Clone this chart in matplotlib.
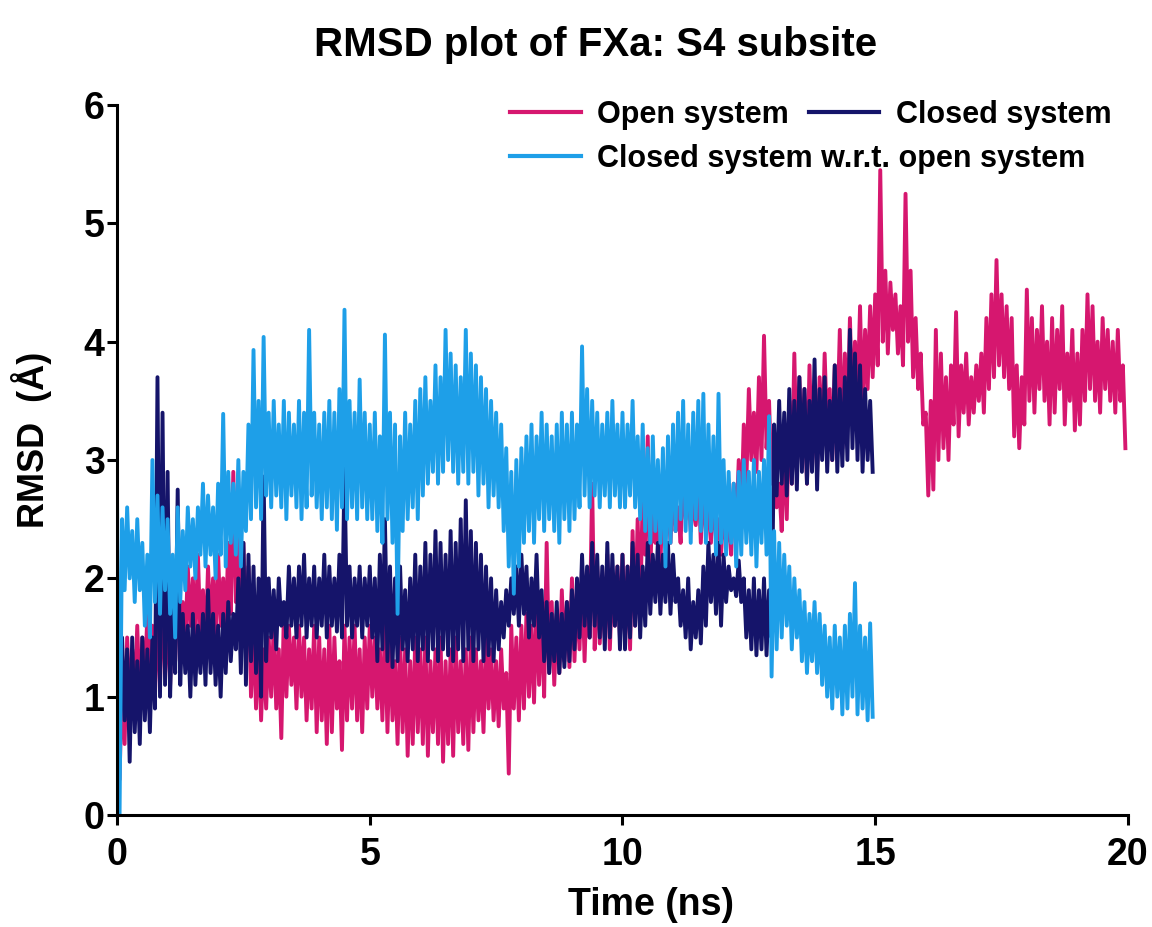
import numpy as np
import matplotlib.pyplot as plt

plt.rcParams['font.family'] = ['Liberation Sans', 'DejaVu Sans']

# RMSD bands, one (upper, lower) pair every 0.1 ns
open_hi = [0.9, 1.2, 1.5, 1.4, 1.6, 1.5, 1.7, 1.6, 1.8, 1.9,
           1.7, 1.9, 2.0, 1.8, 2.1, 2.0, 2.2, 1.9, 2.1, 2.0,
           2.2, 2.0, 2.3, 2.9, 2.4, 2.3, 2.1, 1.6, 1.5, 1.4,
           1.5, 1.6, 1.4, 1.7, 1.6, 1.5, 1.6, 1.5, 1.4, 1.6,
           1.5, 1.4, 1.6, 1.5, 1.3, 1.6, 1.5, 1.6, 1.4, 1.5,
           1.6, 1.5, 1.4, 1.6, 1.5, 1.3, 1.5, 1.4, 1.3, 1.5,
           1.4, 1.5, 1.3, 1.4, 1.5, 1.3, 1.4, 1.5, 1.3, 1.4,
           1.5, 1.4, 1.3, 1.5, 1.4, 1.3, 1.4, 1.2, 1.6, 1.5,
           1.6, 1.7, 1.6, 1.8, 1.7, 2.3, 1.8, 1.7, 1.9, 1.8,
           2.0, 1.9, 2.1, 2.0, 2.8, 2.1, 1.9, 2.2, 2.0, 2.1,
           2.2, 2.1, 2.4, 2.5, 2.7, 3.2, 2.9, 2.6, 2.8, 2.7,
           2.8, 2.6, 2.9, 2.8, 2.7, 2.9, 2.8, 2.6, 2.7, 2.5,
           2.6, 2.5, 2.8, 3.0, 3.3, 3.6, 3.4, 3.7, 4.05, 3.5,
           3.0, 2.8, 3.2, 3.5, 3.9, 3.7, 3.6, 3.8, 3.5, 3.7,
           3.9, 3.6, 3.8, 4.1, 3.9, 4.2, 4.0, 4.3, 4.1, 4.3,
           4.4, 5.45, 4.6, 4.5, 4.4, 4.3, 5.25, 4.6, 4.2, 3.9,
           3.4, 3.5, 4.1, 3.9, 3.7, 3.8, 4.25, 3.8, 3.9, 3.7,
           3.8, 3.9, 4.2, 4.4, 4.69, 4.4, 4.3, 4.2, 3.8, 3.7,
           4.44, 4.2, 4.1, 4.3, 4.0, 4.2, 4.1, 4.3, 3.9, 4.1,
           3.9, 4.1, 4.4, 4.3, 4.0, 4.2, 4.1, 4.0, 4.1, 3.8]
open_lo = [0.3, 0.6, 0.9, 1.0, 0.9, 1.1, 1.2, 1.0, 1.1, 1.2,
           1.1, 1.3, 1.5, 1.4, 1.6, 1.5, 1.5, 1.4, 1.6, 1.5,
           1.6, 1.5, 1.7, 1.8, 1.7, 1.4, 1.0, 0.9, 0.8, 0.9,
           1.0, 0.9, 0.65, 1.0, 1.1, 0.9, 1.0, 0.8, 0.9, 0.7,
           0.8, 0.6, 0.7, 0.9, 0.55, 0.8, 0.9, 0.8, 0.7, 0.9,
           1.0, 0.9, 0.8, 0.7, 0.8, 0.6, 0.7, 0.5, 0.6, 0.7,
           0.6, 0.5, 0.7, 0.6, 0.45, 0.6, 0.5, 0.7, 0.6, 0.55,
           0.7, 0.8, 0.7, 0.9, 0.8, 0.75, 0.9, 0.35, 0.9, 0.8,
           0.9, 1.0, 0.95, 1.1, 1.0, 1.2, 1.1, 1.2, 1.3, 1.25,
           1.3, 1.4, 1.3, 1.5, 1.4, 1.45, 1.5, 1.4, 1.6, 1.5,
           1.5, 1.4, 1.6, 1.7, 2.2, 2.0, 2.3, 2.1, 2.4, 2.3,
           2.4, 2.3, 2.5, 2.4, 2.45, 2.3, 2.4, 2.3, 2.35, 2.2,
           2.3, 2.2, 2.4, 2.5, 2.8, 3.0, 2.9, 3.0, 3.1, 2.8,
           2.6, 2.4, 2.5, 2.8, 2.9, 3.0, 2.8, 3.0, 2.9, 3.1,
           3.2, 3.0, 3.3, 3.1, 3.3, 3.4, 3.5, 3.4, 3.6, 3.7,
           3.8, 4.0, 3.9, 4.1, 3.9, 3.8, 4.0, 3.7, 3.6, 3.3,
           2.7, 2.75, 3.0, 3.1, 3.0, 3.3, 3.2, 3.4, 3.3, 3.4,
           3.5, 3.4, 3.6, 3.7, 3.8, 3.7, 3.6, 3.2, 3.1, 3.3,
           3.5, 3.4, 3.6, 3.5, 3.3, 3.4, 3.6, 3.3, 3.5, 3.25,
           3.3, 3.5, 3.6, 3.5, 3.4, 3.6, 3.5, 3.4, 3.5, 3.1]

closed_hi = [1.3, 1.5, 1.4, 1.5, 1.3, 1.5, 1.4, 1.5, 3.7, 3.4,
             2.9, 1.8, 2.75, 1.7, 1.6, 1.7, 1.6, 1.7, 1.9, 1.7,
             1.6, 1.7, 1.8, 1.7, 2.0, 2.3, 2.2, 2.1, 2.0, 2.86,
             2.0, 1.9, 2.0, 1.8, 2.1, 2.0, 2.1, 2.2, 2.0, 2.1,
             2.0, 2.2, 2.1, 2.0, 2.2, 2.94, 2.1, 2.0, 2.1, 2.0,
             2.1, 2.0, 2.2, 2.5, 2.1, 2.0, 2.1, 1.9, 2.0, 2.2,
             2.1, 2.3, 2.2, 2.4, 2.3, 2.2, 2.4, 2.3, 2.5, 2.66,
             2.4, 2.3, 2.2, 2.1, 2.0, 1.9, 1.8, 1.9, 2.0, 2.1,
             2.2, 2.1, 2.0, 2.2, 1.9, 1.8, 1.7, 1.8, 1.7, 1.8,
             1.9, 2.0, 2.2, 2.1, 2.3, 2.2, 2.1, 2.3, 2.2, 2.1,
             2.2, 2.1, 2.3, 2.2, 2.1, 2.3, 2.2, 2.3, 2.2, 2.3,
             2.2, 2.0, 1.9, 2.0, 1.8, 1.9, 2.1, 2.3, 2.2, 2.3,
             2.2, 2.1, 2.0, 2.15, 2.0, 1.9, 2.0, 1.9, 2.0, 1.9,
             3.3, 3.5, 3.4, 3.6, 3.5, 3.7, 3.6, 3.5, 3.85, 3.6,
             3.7, 3.5, 3.8, 3.6, 3.7, 4.1, 3.9, 3.8, 3.6, 3.5]
closed_lo = [0.6, 0.8, 0.45, 0.7, 0.6, 0.8, 0.7, 0.9, 1.0, 1.1,
             1.0, 1.2, 1.1, 1.2, 1.0, 1.1, 1.2, 1.1, 1.2, 1.1,
             1.0, 1.2, 1.3, 1.4, 1.2, 1.1, 1.3, 1.2, 1.0, 1.3,
             1.5, 1.4, 1.6, 1.5, 1.6, 1.5, 1.6, 1.5, 1.6, 1.5,
             1.6, 1.5, 1.6, 1.55, 1.5, 1.6, 1.5, 1.6, 1.5, 1.6,
             1.5, 1.3, 1.4, 1.3, 1.25, 1.3, 1.4, 1.3, 1.4, 1.3,
             1.4, 1.3, 1.4, 1.3, 1.4, 1.35, 1.3, 1.4, 1.3, 1.4,
             1.3, 1.4, 1.3, 1.35, 1.3, 1.4, 1.5, 1.6, 1.7, 1.6,
             1.7, 1.5, 1.6, 1.5, 1.3, 1.2, 1.3, 1.2, 1.25, 1.3,
             1.4, 1.5, 1.6, 1.5, 1.6, 1.5, 1.4, 1.5, 1.6, 1.4,
             1.4, 1.5, 1.6, 1.5, 1.6, 1.7, 1.8, 1.7, 1.8, 1.7,
             1.8, 1.6, 1.5, 1.4, 1.5, 1.45, 1.6, 1.8, 1.7, 1.6,
             1.8, 1.9, 1.85, 1.8, 1.5, 1.4, 1.35, 1.4, 1.35, 1.5,
             2.7, 2.8, 2.7, 2.8, 2.75, 2.9, 2.8, 2.9, 2.75, 3.0,
             2.9, 3.0, 2.9, 2.95, 3.0, 3.1, 3.0, 2.9, 3.0, 2.9]

wrt_hi = [2.65, 2.5, 2.6, 2.4, 2.5, 2.3, 2.2, 3.0, 2.7, 2.6,
          2.5, 2.2, 2.6, 2.4, 2.6, 2.5, 2.6, 2.8, 2.7, 2.6,
          2.8, 3.39, 2.9, 2.8, 3.0, 2.9, 3.3, 3.93, 3.5, 4.04,
          3.4, 3.5, 3.3, 3.5, 3.4, 3.3, 3.5, 3.4, 4.1, 3.4,
          3.3, 3.4, 3.5, 3.4, 3.6, 4.27, 3.5, 3.4, 3.68, 3.4,
          3.3, 3.4, 3.2, 4.06, 3.4, 3.3, 3.2, 3.4, 3.3, 3.5,
          3.6, 3.7, 3.5, 3.8, 3.7, 4.1, 3.9, 3.8, 3.7, 4.1,
          3.9, 3.8, 3.7, 3.6, 3.5, 3.4, 3.3, 3.1, 2.9, 3.0,
          3.1, 3.2, 3.3, 3.2, 3.4, 3.3, 3.2, 3.3, 3.4, 3.3,
          3.4, 3.3, 3.96, 3.6, 3.5, 3.4, 3.3, 3.4, 3.5, 3.3,
          3.4, 3.3, 3.5, 3.2, 3.3, 3.1, 3.2, 3.0, 3.1, 3.2,
          3.3, 3.4, 3.5, 3.3, 3.4, 3.5, 3.56, 3.3, 3.2, 3.56,
          3.0, 2.9, 2.8, 2.9, 3.0, 2.9, 3.0, 2.9, 3.0, 3.37,
          2.4, 2.3, 2.2, 2.1, 2.0, 1.9, 1.8, 1.7, 1.8, 1.7,
          1.6, 1.5, 1.6, 1.5, 1.6, 1.7, 1.96, 1.6, 1.5, 1.62]
wrt_lo = [0.0, 1.9, 2.0, 1.8, 1.9, 1.6, 1.5, 1.8, 1.7, 1.9,
          1.7, 1.5, 1.8, 1.9, 2.1, 2.0, 2.2, 2.1, 2.2, 2.0,
          2.2, 2.1, 2.3, 2.2, 2.1, 2.4, 2.5, 2.6, 2.5, 2.7,
          2.6, 2.7, 2.6, 2.5, 2.7, 2.6, 2.5, 2.6, 2.7, 2.6,
          2.5, 2.6, 2.5, 2.41, 2.6, 2.5, 2.6, 2.5, 2.6, 2.5,
          2.5, 2.4, 2.3, 2.5, 2.3, 1.7, 2.4, 2.5, 2.6, 2.5,
          2.7, 2.8, 2.9, 2.8, 2.9, 3.0, 2.9, 2.8, 2.9, 2.8,
          2.9, 2.7, 2.8, 2.6, 2.7, 2.6, 2.4, 2.1, 1.87, 2.1,
          2.3, 2.4, 2.3, 2.5, 2.4, 2.5, 2.4, 2.3, 2.5, 2.4,
          2.5, 2.6, 2.7, 2.6, 2.7, 2.6, 2.7, 2.6, 2.7, 2.6,
          2.6, 2.7, 2.6, 2.5, 2.4, 2.3, 2.4, 2.3, 2.1, 2.3,
          2.4, 2.5, 2.4, 2.3, 2.5, 2.4, 2.3, 2.4, 2.2, 2.3,
          2.2, 2.3, 2.1, 2.2, 2.3, 2.2, 2.1, 2.3, 2.2, 1.17,
          1.4, 1.5, 1.6, 1.4, 1.5, 1.3, 1.2, 1.3, 1.2, 1.1,
          1.0, 0.9, 1.0, 0.85, 0.9, 1.0, 0.85, 0.9, 0.8, 0.83]

step = 0.05  # ns between the upper and lower reading of a bin


def trace(hi, lo):
    # walk up/down through the band so the line looks like the raw trajectory
    y = np.column_stack([hi, lo]).ravel()
    t = np.arange(len(y)) * step
    return t, y


fig = plt.figure(figsize=(11.52, 9.27), dpi=100)
ax = fig.add_axes([0.1016, 0.1208, 0.8775, 0.7659])

t, y = trace(open_hi, open_lo)
ax.plot(t, y, color='#d6176f', lw=2.8, label='Open system')
t, y = trace(closed_hi, closed_lo)
ax.plot(t, y, color='#15146a', lw=2.8, label='Closed system')
t, y = trace(wrt_hi, wrt_lo)
ax.plot(t, y, color='#1e9fe8', lw=2.8, label='Closed system w.r.t. open system')

ax.set_xlim(0, 20)
ax.set_ylim(0, 6)
ax.set_xticks([0, 5, 10, 15, 20])
ax.set_yticks(range(7))
for side in ('top', 'right'):
    ax.spines[side].set_visible(False)
for side in ('left', 'bottom'):
    ax.spines[side].set_linewidth(2.2)
ax.tick_params(length=7, width=2.2, labelsize=27)
ax.tick_params(axis='x', pad=9)
ax.tick_params(axis='y', pad=2)
for lab in ax.get_xticklabels() + ax.get_yticklabels():
    lab.set_fontweight('bold')

ax.set_xlabel('Time (ns)', fontsize=27, fontweight='bold')
ax.xaxis.set_label_coords(0.528, -0.101)
ax.set_ylabel('RMSD  (Å)', fontsize=26, fontweight='bold')
ax.yaxis.set_label_coords(-0.064, 0.528)
fig.suptitle('RMSD plot of FXa: S4 subsite', fontsize=29, fontweight='bold',
             x=0.517, y=0.972, va='top')

h, l = ax.get_legend_handles_labels()
leg1 = ax.legend(h[:2], l[:2], ncol=2, loc='upper left', bbox_to_anchor=(0.377, 1.025),
                 frameon=False, handlelength=2.3, handletextpad=0.55,
                 columnspacing=0.65, borderaxespad=0,
                 prop={'weight': 'bold', 'size': 22})
for ln in leg1.get_lines():
    ln.set_linewidth(3)
ax.add_artist(leg1)
leg2 = ax.legend(h[2:], l[2:], loc='upper left', bbox_to_anchor=(0.377, 0.9625),
                 frameon=False, handlelength=2.3, handletextpad=0.55,
                 borderaxespad=0, prop={'weight': 'bold', 'size': 22})
for ln in leg2.get_lines():
    ln.set_linewidth(3)

fig.savefig('out.png', dpi=100)
